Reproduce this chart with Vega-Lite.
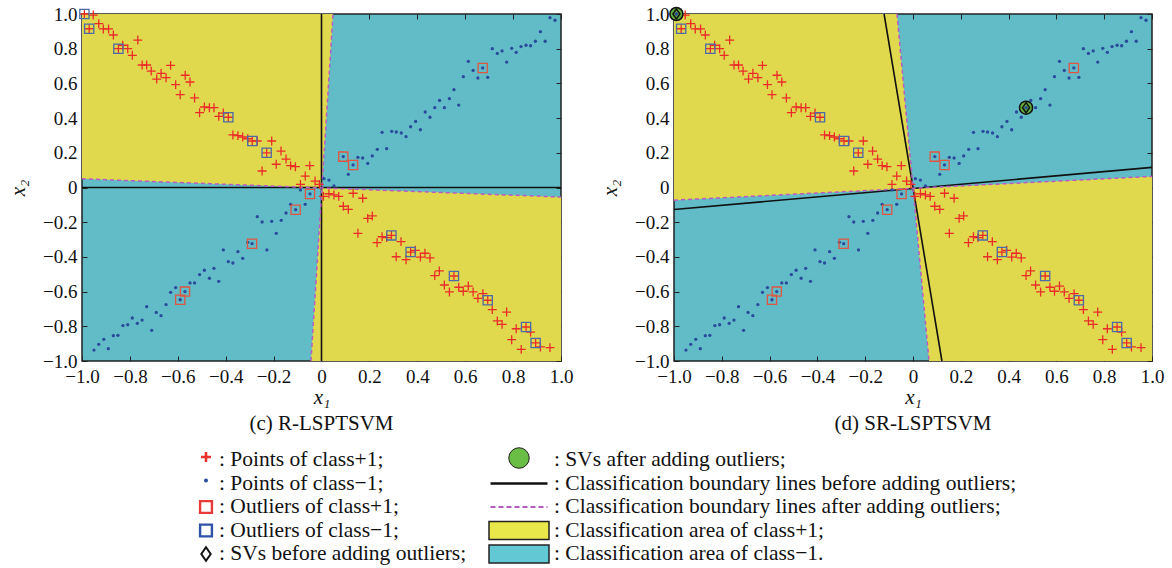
{
"$schema":"https://vega.github.io/schema/vega-lite/v6.json",
"padding":{"left":6,"top":3,"right":5,"bottom":0},
"background":"white",
"spacing":10,
"datasets":{
"plus":[{"x":-0.99,"y":1.0},{"x":-0.953,"y":0.994},{"x":-0.97,"y":0.915},{"x":-0.93,"y":0.944},{"x":-0.911,"y":0.914},{"x":-0.889,"y":0.914},{"x":-0.869,"y":0.879},{"x":-0.848,"y":0.80},{"x":-0.83,"y":0.82},{"x":-0.809,"y":0.80},{"x":-0.79,"y":0.762},{"x":-0.767,"y":0.85},{"x":-0.749,"y":0.706},{"x":-0.73,"y":0.706},{"x":-0.711,"y":0.671},{"x":-0.688,"y":0.625},{"x":-0.67,"y":0.658},{"x":-0.649,"y":0.633},{"x":-0.63,"y":0.704},{"x":-0.609,"y":0.593},{"x":-0.59,"y":0.535},{"x":-0.569,"y":0.647},{"x":-0.549,"y":0.608},{"x":-0.53,"y":0.516},{"x":-0.509,"y":0.431},{"x":-0.489,"y":0.464},{"x":-0.468,"y":0.46},{"x":-0.449,"y":0.46},{"x":-0.429,"y":0.41},{"x":-0.41,"y":0.429},{"x":-0.389,"y":0.405},{"x":-0.37,"y":0.303},{"x":-0.349,"y":0.299},{"x":-0.329,"y":0.291},{"x":-0.308,"y":0.281},{"x":-0.289,"y":0.268},{"x":-0.268,"y":0.268},{"x":-0.248,"y":0.095},{"x":-0.229,"y":0.2},{"x":-0.208,"y":0.268},{"x":-0.189,"y":0.134},{"x":-0.169,"y":0.21},{"x":-0.148,"y":0.164},{"x":-0.129,"y":0.126},{"x":-0.109,"y":0.12},{"x":-0.088,"y":0.018},{"x":-0.068,"y":0.066},{"x":-0.049,"y":0.126},{"x":-0.027,"y":0.037},{"x":-0.009,"y":0.018},
{"x":0.008,"y":-0.051},{"x":0.031,"y":-0.036},{"x":0.052,"y":-0.043},{"x":0.072,"y":-0.051},{"x":0.091,"y":-0.108},{"x":0.112,"y":-0.126},{"x":0.132,"y":-0.033},{"x":0.152,"y":-0.264},{"x":0.172,"y":-0.062},{"x":0.193,"y":-0.178},{"x":0.212,"y":-0.164},{"x":0.232,"y":-0.318},{"x":0.253,"y":-0.284},{"x":0.272,"y":-0.289},{"x":0.292,"y":-0.276},{"x":0.312,"y":-0.399},{"x":0.332,"y":-0.312},{"x":0.353,"y":-0.416},{"x":0.372,"y":-0.372},{"x":0.392,"y":-0.362},{"x":0.413,"y":-0.401},{"x":0.432,"y":-0.379},{"x":0.453,"y":-0.406},{"x":0.473,"y":-0.508},{"x":0.492,"y":-0.481},{"x":0.513,"y":-0.562},{"x":0.534,"y":-0.602},{"x":0.553,"y":-0.51},{"x":0.573,"y":-0.575},{"x":0.592,"y":-0.598},{"x":0.613,"y":-0.568},{"x":0.633,"y":-0.602},{"x":0.653,"y":-0.639},{"x":0.674,"y":-0.612},{"x":0.694,"y":-0.65},{"x":0.713,"y":-0.704},{"x":0.734,"y":-0.769},{"x":0.754,"y":-0.789},{"x":0.773,"y":-0.718},{"x":0.794,"y":-0.877},{"x":0.813,"y":-0.814},{"x":0.834,"y":-0.933},{"x":0.854,"y":-0.804},{"x":0.873,"y":-0.833},{"x":0.894,"y":-0.896},{"x":0.914,"y":-0.919},{"x":0.954,"y":-0.923}],
"dot":[{"x":-0.95,"y":-0.937},{"x":-0.93,"y":-0.904},{"x":-0.909,"y":-0.875},{"x":-0.89,"y":-0.929},{"x":-0.869,"y":-0.854},{"x":-0.85,"y":-0.852},{"x":-0.829,"y":-0.796},{"x":-0.809,"y":-0.791},{"x":-0.79,"y":-0.752},{"x":-0.769,"y":-0.783},{"x":-0.749,"y":-0.764},{"x":-0.73,"y":-0.687},{"x":-0.709,"y":-0.823},{"x":-0.69,"y":-0.72},{"x":-0.67,"y":-0.739},{"x":-0.649,"y":-0.675},{"x":-0.63,"y":-0.604},{"x":-0.609,"y":-0.577},{"x":-0.59,"y":-0.647},{"x":-0.57,"y":-0.6},{"x":-0.549,"y":-0.55},{"x":-0.53,"y":-0.55},{"x":-0.509,"y":-0.502},{"x":-0.489,"y":-0.477},{"x":-0.468,"y":-0.523},{"x":-0.449,"y":-0.466},{"x":-0.429,"y":-0.541},{"x":-0.41,"y":-0.36},{"x":-0.389,"y":-0.427},{"x":-0.37,"y":-0.435},{"x":-0.349,"y":-0.37},{"x":-0.329,"y":-0.408},{"x":-0.308,"y":-0.316},{"x":-0.29,"y":-0.324},{"x":-0.268,"y":-0.168},{"x":-0.248,"y":-0.199},{"x":-0.228,"y":-0.36},{"x":-0.208,"y":-0.195},{"x":-0.189,"y":-0.264},{"x":-0.168,"y":-0.189},{"x":-0.148,"y":-0.147},{"x":-0.129,"y":-0.097},{"x":-0.108,"y":-0.128},{"x":-0.068,"y":-0.097},{"x":-0.088,"y":-0.014},{"x":-0.048,"y":-0.037},
{"x":0.01,"y":0.051},{"x":0.031,"y":0.043},{"x":0.052,"y":0.009},{"x":0.091,"y":0.178},{"x":0.112,"y":0.076},{"x":0.132,"y":0.13},{"x":0.152,"y":0.174},{"x":0.172,"y":0.17},{"x":0.193,"y":0.139},{"x":0.212,"y":0.182},{"x":0.233,"y":0.22},{"x":0.253,"y":0.318},{"x":0.272,"y":0.224},{"x":0.293,"y":0.324},{"x":0.312,"y":0.32},{"x":0.333,"y":0.314},{"x":0.353,"y":0.293},{"x":0.372,"y":0.35},{"x":0.393,"y":0.381},{"x":0.413,"y":0.333},{"x":0.433,"y":0.435},{"x":0.453,"y":0.405},{"x":0.473,"y":0.46},{"x":0.493,"y":0.502},{"x":0.513,"y":0.46},{"x":0.534,"y":0.512},{"x":0.553,"y":0.564},{"x":0.573,"y":0.475},{"x":0.592,"y":0.639},{"x":0.613,"y":0.727},{"x":0.633,"y":0.675},{"x":0.653,"y":0.631},{"x":0.673,"y":0.689},{"x":0.694,"y":0.635},{"x":0.713,"y":0.8},{"x":0.734,"y":0.773},{"x":0.754,"y":0.787},{"x":0.773,"y":0.723},{"x":0.794,"y":0.802},{"x":0.813,"y":0.779},{"x":0.833,"y":0.812},{"x":0.854,"y":0.82},{"x":0.873,"y":0.817},{"x":0.893,"y":0.843},{"x":0.914,"y":0.898},{"x":0.934,"y":0.843},{"x":0.954,"y":0.979},{"x":0.975,"y":0.964}],
"sq":[{"x":-0.99,"y":1.0,"cls":"m"},{"x":-0.97,"y":0.915,"cls":"m"},{"x":-0.848,"y":0.80,"cls":"m"},{"x":-0.389,"y":0.405,"cls":"m"},{"x":-0.289,"y":0.268,"cls":"m"},{"x":-0.229,"y":0.2,"cls":"m"},{"x":0.292,"y":-0.276,"cls":"m"},{"x":0.372,"y":-0.372,"cls":"m"},{"x":0.553,"y":-0.51,"cls":"m"},{"x":0.694,"y":-0.65,"cls":"m"},{"x":0.854,"y":-0.804,"cls":"m"},{"x":0.894,"y":-0.896,"cls":"m"},
{"x":0.091,"y":0.178,"cls":"p"},{"x":0.132,"y":0.13,"cls":"p"},{"x":0.673,"y":0.689,"cls":"p"},{"x":-0.59,"y":-0.647,"cls":"p"},{"x":-0.57,"y":-0.6,"cls":"p"},{"x":-0.29,"y":-0.324,"cls":"p"},{"x":-0.108,"y":-0.128,"cls":"p"},{"x":-0.048,"y":-0.037,"cls":"p"}],
"regC":[{"reg":"TL","x":-1,"y":0.05,"y2":1},{"reg":"TL","x":0.002,"y":-0.0025,"y2":1},{"reg":"TL","x":0.048,"y":1,"y2":1},{"reg":"BR","x":-0.044,"y":-1,"y2":-1},{"reg":"BR","x":0.002,"y":-1,"y2":-0.0025},{"reg":"BR","x":1,"y":-1,"y2":-0.055}],
"regD":[{"reg":"TL","x":-1,"y":-0.073,"y2":1},{"reg":"TL","x":-0.067,"y":-0.01,"y2":1},{"reg":"TL","x":0,"y":-0.005,"y2":-0.005},{"reg":"BR","x":0,"y":-0.005,"y2":-0.005},{"reg":"BR","x":0.067,"y":-1,"y2":-0.001},{"reg":"BR","x":1,"y":-1,"y2":0.064}],
"blackC":[{"x":-1,"y":0,"x2":1,"y2":0},{"x":0,"y":-1,"x2":0,"y2":1}],
"blackD":[{"x":-1,"y":-0.127,"x2":1,"y2":0.116},{"x":-0.121,"y":1,"x2":0.121,"y2":-1}],
"dashC":[{"x":-1,"y":0.05,"x2":1,"y2":-0.055},{"x":-0.044,"y":-1,"x2":0.048,"y2":1}],
"dashD":[{"x":-1,"y":-0.073,"x2":1,"y2":0.064},{"x":-0.067,"y":1,"x2":0.067,"y2":-1}],
"sv":[{"x":-0.99,"y":1.0},{"x":0.473,"y":0.46}],
"leg":[{"col":0,"row":0,"label":": Points of class+1;"},{"col":0,"row":1,"label":": Points of class−1;"},{"col":0,"row":2,"label":": Outliers of class+1;"},{"col":0,"row":3,"label":": Outliers of class−1;"},{"col":0,"row":4,"label":": SVs before adding outliers;"},{"col":1,"row":0,"label":": SVs after adding outliers;"},{"col":1,"row":1,"label":": Classification boundary lines before adding outliers;"},{"col":1,"row":2,"label":": Classification boundary lines after adding outliers;"},{"col":1,"row":3,"label":": Classification area of class+1;"},{"col":1,"row":4,"label":": Classification area of class−1."}]
},
"vconcat":[
{"spacing":24,
 "hconcat":[
{"width":479,"height":347,
 "view":{"fill":"#62bcc7","stroke":"#222","strokeWidth":1.5},
 "title":{"text":"(c) R-LSPTSVM","orient":"bottom","font":"Liberation Serif","fontSize":21,"fontWeight":"normal","offset":6,"color":"#111"},
 "resolve":{"axis":{"x":"independent","y":"independent"}},
 "layer":[
  {"data":{"name":"regC"},"mark":{"type":"area","color":"#e1d94d","clip":true,"opacity":1},
   "encoding":{"x":{"field":"x","type":"quantitative","scale":{"domain":[-1,1],"nice":false,"zero":false},"axis":{"orient":"bottom","values":[-1,-0.8,-0.6,-0.4,-0.2,0,0.2,0.4,0.6,0.8,1],"labelExpr":"datum.value == 0 ? '0' : format(datum.value, '.1f')","title":"x₁","tickSize":-5,"labelPadding":11,"titlePadding":0}},
    "y":{"field":"y","type":"quantitative","scale":{"domain":[-1,1],"nice":false,"zero":false},"axis":{"orient":"left","values":[-1,-0.8,-0.6,-0.4,-0.2,0,0.2,0.4,0.6,0.8,1],"labelExpr":"datum.value == 0 ? '0' : format(datum.value, '.1f')","title":"x₂","tickSize":-5,"labelPadding":10,"titlePadding":14}},
    "y2":{"field":"y2"},"detail":{"field":"reg"}}},
  {"data":{"name":"blackC"},"mark":{"type":"rule","color":"#111","strokeWidth":1.6},
   "encoding":{"x":{"field":"x","type":"quantitative","scale":{"domain":[-1,1],"nice":false,"zero":false},"axis":{"orient":"top","values":[-1,-0.8,-0.6,-0.4,-0.2,0,0.2,0.4,0.6,0.8,1],"labels":false,"title":null,"tickSize":-5}},
    "y":{"field":"y","type":"quantitative","scale":{"domain":[-1,1],"nice":false,"zero":false},"axis":{"orient":"right","values":[-1,-0.8,-0.6,-0.4,-0.2,0,0.2,0.4,0.6,0.8,1],"labels":false,"title":null,"tickSize":-5}},
    "x2":{"field":"x2"},"y2":{"field":"y2"}}},
  {"data":{"name":"dashC"},"mark":{"type":"rule","color":"#b85cc0","strokeWidth":1.5,"strokeDash":[4,3]},
   "encoding":{"x":{"field":"x","type":"quantitative","axis":null},"y":{"field":"y","type":"quantitative","axis":null},"x2":{"field":"x2"},"y2":{"field":"y2"}}},
  {"data":{"name":"dot"},"mark":{"type":"point","shape":"circle","filled":true,"color":"#2a4a9c","size":11,"opacity":1},
   "encoding":{"x":{"field":"x","type":"quantitative","axis":null},"y":{"field":"y","type":"quantitative","axis":null}}},
  {"data":{"name":"plus"},"mark":{"type":"point","shape":"M-1,0L1,0M0,-1L0,1","filled":false,"color":"#ea2c28","strokeWidth":1.3,"size":80,"opacity":1},
   "encoding":{"x":{"field":"x","type":"quantitative","axis":null},"y":{"field":"y","type":"quantitative","axis":null}}},
  {"data":{"name":"sq"},"mark":{"type":"point","shape":"square","filled":false,"strokeWidth":1.3,"size":85,"opacity":1},
   "encoding":{"x":{"field":"x","type":"quantitative","axis":null},"y":{"field":"y","type":"quantitative","axis":null},
    "color":{"field":"cls","type":"nominal","scale":{"domain":["p","m"],"range":["#e0553f","#4c6aa8"]},"legend":null}}}
 ]},
{"width":478,"height":347,
 "view":{"fill":"#62bcc7","stroke":"#222","strokeWidth":1.5},
 "title":{"text":"(d) SR-LSPTSVM","orient":"bottom","font":"Liberation Serif","fontSize":21,"fontWeight":"normal","offset":6,"color":"#111"},
 "resolve":{"axis":{"x":"independent","y":"independent"}},
 "layer":[
  {"data":{"name":"regD"},"mark":{"type":"area","color":"#e1d94d","clip":true,"opacity":1},
   "encoding":{"x":{"field":"x","type":"quantitative","scale":{"domain":[-1,1],"nice":false,"zero":false},"axis":{"orient":"bottom","values":[-1,-0.8,-0.6,-0.4,-0.2,0,0.2,0.4,0.6,0.8,1],"labelExpr":"datum.value == 0 ? '0' : format(datum.value, '.1f')","title":"x₁","tickSize":-5,"labelPadding":11,"titlePadding":0}},
    "y":{"field":"y","type":"quantitative","scale":{"domain":[-1,1],"nice":false,"zero":false},"axis":{"orient":"left","values":[-1,-0.8,-0.6,-0.4,-0.2,0,0.2,0.4,0.6,0.8,1],"labelExpr":"datum.value == 0 ? '0' : format(datum.value, '.1f')","title":"x₂","tickSize":-5,"labelPadding":10,"titlePadding":14}},
    "y2":{"field":"y2"},"detail":{"field":"reg"}}},
  {"data":{"name":"blackD"},"mark":{"type":"rule","color":"#111","strokeWidth":1.6},
   "encoding":{"x":{"field":"x","type":"quantitative","scale":{"domain":[-1,1],"nice":false,"zero":false},"axis":{"orient":"top","values":[-1,-0.8,-0.6,-0.4,-0.2,0,0.2,0.4,0.6,0.8,1],"labels":false,"title":null,"tickSize":-5}},
    "y":{"field":"y","type":"quantitative","scale":{"domain":[-1,1],"nice":false,"zero":false},"axis":{"orient":"right","values":[-1,-0.8,-0.6,-0.4,-0.2,0,0.2,0.4,0.6,0.8,1],"labels":false,"title":null,"tickSize":-5}},
    "x2":{"field":"x2"},"y2":{"field":"y2"}}},
  {"data":{"name":"dashD"},"mark":{"type":"rule","color":"#b85cc0","strokeWidth":1.5,"strokeDash":[4,3]},
   "encoding":{"x":{"field":"x","type":"quantitative","axis":null},"y":{"field":"y","type":"quantitative","axis":null},"x2":{"field":"x2"},"y2":{"field":"y2"}}},
  {"data":{"name":"dot"},"mark":{"type":"point","shape":"circle","filled":true,"color":"#2a4a9c","size":11,"opacity":1},
   "encoding":{"x":{"field":"x","type":"quantitative","axis":null},"y":{"field":"y","type":"quantitative","axis":null}}},
  {"data":{"name":"plus"},"mark":{"type":"point","shape":"M-1,0L1,0M0,-1L0,1","filled":false,"color":"#ea2c28","strokeWidth":1.3,"size":80,"opacity":1},
   "encoding":{"x":{"field":"x","type":"quantitative","axis":null},"y":{"field":"y","type":"quantitative","axis":null}}},
  {"data":{"name":"sq"},"mark":{"type":"point","shape":"square","filled":false,"strokeWidth":1.3,"size":85,"opacity":1},
   "encoding":{"x":{"field":"x","type":"quantitative","axis":null},"y":{"field":"y","type":"quantitative","axis":null},
    "color":{"field":"cls","type":"nominal","scale":{"domain":["p","m"],"range":["#e0553f","#4c6aa8"]},"legend":null}}},
  {"data":{"name":"sv"},"mark":{"type":"point","shape":"circle","filled":true,"fill":"#5fae3c","stroke":"#111","strokeWidth":1.5,"size":170,"opacity":1},
   "encoding":{"x":{"field":"x","type":"quantitative","axis":null},"y":{"field":"y","type":"quantitative","axis":null}}},
  {"data":{"name":"sv"},"mark":{"type":"point","shape":"M0,-1L0.7,0L0,1L-0.7,0Z","filled":false,"stroke":"#111","strokeWidth":1.5,"size":100,"opacity":1},
   "encoding":{"x":{"field":"x","type":"quantitative","axis":null},"y":{"field":"y","type":"quantitative","axis":null}}},
  {"data":{"name":"sv"},"mark":{"type":"point","shape":"circle","filled":true,"color":"#2a4a9c","size":11,"opacity":1},
   "encoding":{"x":{"field":"x","type":"quantitative","axis":null},"y":{"field":"y","type":"quantitative","axis":null}}}
 ]}
]},
{"width":1000,"height":120,
 "view":{"stroke":null},
 "data":{"name":"leg"},
 "encoding":{"x":{"field":"col","type":"quantitative","scale":{"domain":[0,1],"range":[124,437]},"axis":null},
  "y":{"field":"row","type":"quantitative","scale":{"domain":[0,4],"range":[5,99]},"axis":null}},
 "layer":[
  {"transform":[{"filter":"datum.col == 0"}],"mark":{"type":"text","align":"left","baseline":"middle","dx":13,"font":"Liberation Serif","fontSize":21.5,"color":"#111"},"encoding":{"text":{"field":"label"}}},
  {"transform":[{"filter":"datum.col == 1"}],"mark":{"type":"text","align":"left","baseline":"middle","dx":35,"font":"Liberation Serif","fontSize":21.5,"color":"#111"},"encoding":{"text":{"field":"label"}}},
  {"transform":[{"filter":"datum.col == 0 && datum.row == 0"}],"mark":{"type":"point","shape":"M-1,0L1,0M0,-1L0,1","filled":false,"color":"#e8302c","strokeWidth":2.6,"size":100,"opacity":1,"yOffset":-3}},
  {"transform":[{"filter":"datum.col == 0 && datum.row == 1"}],"mark":{"type":"point","shape":"circle","filled":true,"color":"#2a4a9c","size":16,"opacity":1,"yOffset":-3}},
  {"transform":[{"filter":"datum.col == 0 && datum.row == 2"}],"mark":{"type":"point","shape":"square","filled":false,"color":"#e83a36","strokeWidth":2.4,"size":140,"opacity":1}},
  {"transform":[{"filter":"datum.col == 0 && datum.row == 3"}],"mark":{"type":"point","shape":"square","filled":false,"color":"#2f52a8","strokeWidth":2.4,"size":140,"opacity":1}},
  {"transform":[{"filter":"datum.col == 0 && datum.row == 4"}],"mark":{"type":"point","shape":"M0,-1L0.7,0L0,1L-0.7,0Z","filled":false,"color":"#111","strokeWidth":2,"size":180,"opacity":1}},
  {"transform":[{"filter":"datum.col == 1 && datum.row == 0"}],"mark":{"type":"point","shape":"circle","filled":true,"fill":"#6abd45","stroke":"#222","strokeWidth":1,"size":420,"opacity":1,"yOffset":-2}},
  {"transform":[{"filter":"datum.col == 1 && datum.row == 1"}],"mark":{"type":"point","shape":"M-1,0L1,0","filled":false,"color":"#111","strokeWidth":2.4,"size":3249,"opacity":1}},
  {"transform":[{"filter":"datum.col == 1 && datum.row == 2"}],"mark":{"type":"point","shape":"M-1,0L1,0","filled":false,"color":"#b35db8","strokeWidth":2,"strokeDash":[5,3],"size":3249,"opacity":1}},
  {"transform":[{"filter":"datum.col == 1 && datum.row == 3"}],"mark":{"type":"point","shape":"M-1,-0.3L1,-0.3L1,0.3L-1,0.3Z","filled":true,"fill":"#e8e84a","stroke":"#222","strokeWidth":1.5,"size":3600,"opacity":1}},
  {"transform":[{"filter":"datum.col == 1 && datum.row == 4"}],"mark":{"type":"point","shape":"M-1,-0.3L1,-0.3L1,0.3L-1,0.3Z","filled":true,"fill":"#62c8d4","stroke":"#222","strokeWidth":1.5,"size":3600,"opacity":1}}
 ]}
],
"config":{
 "font":"Liberation Serif",
 "style":{"guide-label":{"font":"Liberation Serif","fontSize":19,"fill":"#111"},"guide-title":{"font":"Liberation Serif","fontSize":21,"fontStyle":"italic","fontWeight":"normal","fill":"#111"}},
 "axis":{"labelFont":"Liberation Serif","labelFontSize":19,"labelColor":"#111","tickColor":"#222","tickWidth":1,"domain":false,"grid":false,"titleFont":"Liberation Serif","titleFontSize":21,"titleFontStyle":"italic","titleFontWeight":"normal","titleColor":"#111","labelOverlap":false,"labelBound":false,"labelFlush":false}
}
}
